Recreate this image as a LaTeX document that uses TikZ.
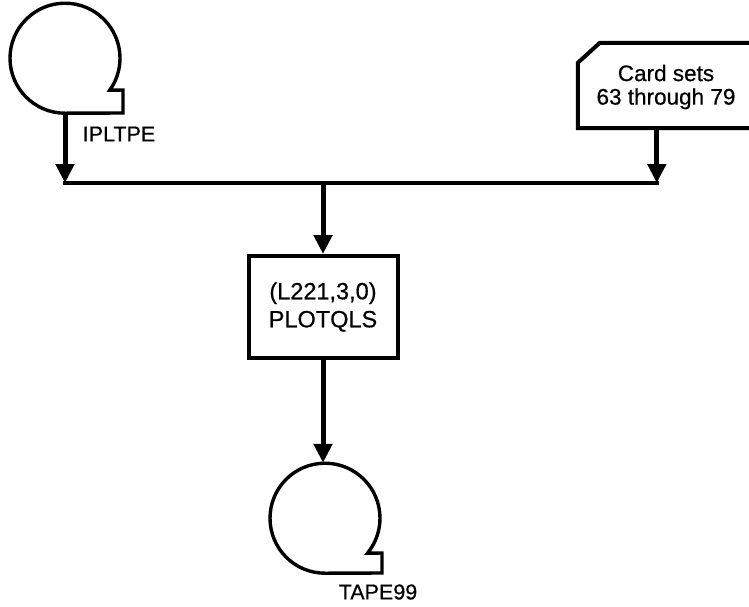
\documentclass[tikz,border=0pt]{standalone}
\usepackage{fontspec}
\setmainfont{Liberation Sans}
\newfontfamily\widefont[FakeBold=0.6]{Liberation Sans}
\usetikzlibrary{arrows.meta,calc}
\begin{document}
\begin{tikzpicture}[x=1pt,y=-1pt,
  flow/.style={line width=5pt,-{Triangle[width=18pt,length=19pt]}},
  busline/.style={line width=4.6pt,line cap=rect},
  outline/.style={line width=4pt,line join=miter},
  tapeline/.style={line width=3.4pt,line join=miter},
  lbl/.style={font=\widefont\fontsize{21.5}{27}\selectfont,inner sep=0pt,align=center},
  boxlbl/.style={font=\widefont\fontsize{23.5}{28}\selectfont,inner sep=0pt,align=center},
  cardlbl/.style={font=\widefont\fontsize{22.5}{23.5}\selectfont,inner sep=0pt,align=center},
  tapecirc/.style={circle,minimum size=110pt,inner sep=0pt}]
\clip (0,0) rectangle (749,606);
% tape IPLTPE
\node[tapecirc] (tapeA) at (65,58) {};
\draw[tapeline] (tapeA.south) arc[start angle=90,end angle=395.6,radius=55] -- (123,90) -- (123,113) -- cycle;
\node[lbl] (labA) at (119,134) {IPLTPE};
% card
\node[minimum width=192pt,minimum height=85pt,inner sep=0pt] (card) at (674,85.5) {};
\draw[outline] ($(card.north west)+(22,0)$) -- (card.north east) -- (card.south east) -- (card.south west) -- ($(card.north west)+(0,20)$) -- cycle;
\node[cardlbl] (cardtxt) at (666,87) {Card sets\\63 through 79};
% process box
\node[draw,outline,boxlbl,minimum width=149pt,minimum height=102pt] (proc) at (323,307) {(L221,3,0)\\PLOTQLS};
% tape TAPE99
\node[tapecirc] (tapeB) at (325,518) {};
\draw[tapeline] (tapeB.south) arc[start angle=90,end angle=399.5,radius=55] -- (382,553) -- (382,573) -- cycle;
\node[lbl] (labB) at (378,592) {TAPE99};
% connectors
\coordinate (bus) at (0,183);
\coordinate (jA) at (tapeA.south |- bus);
\coordinate (cardout) at ($(card.south west)+(79,0)$);
\coordinate (jC) at (cardout |- bus);
\coordinate (jP) at (proc.north |- bus);
\draw[busline] (jA) -- (jC);
\draw[flow] (tapeA.south) -- (jA);
\draw[flow] (cardout) -- (jC);
\draw[flow] (jP) -- (proc.north);
\draw[flow] (proc.south) -- (proc.south |- tapeB.north);
\end{tikzpicture}
\end{document}
